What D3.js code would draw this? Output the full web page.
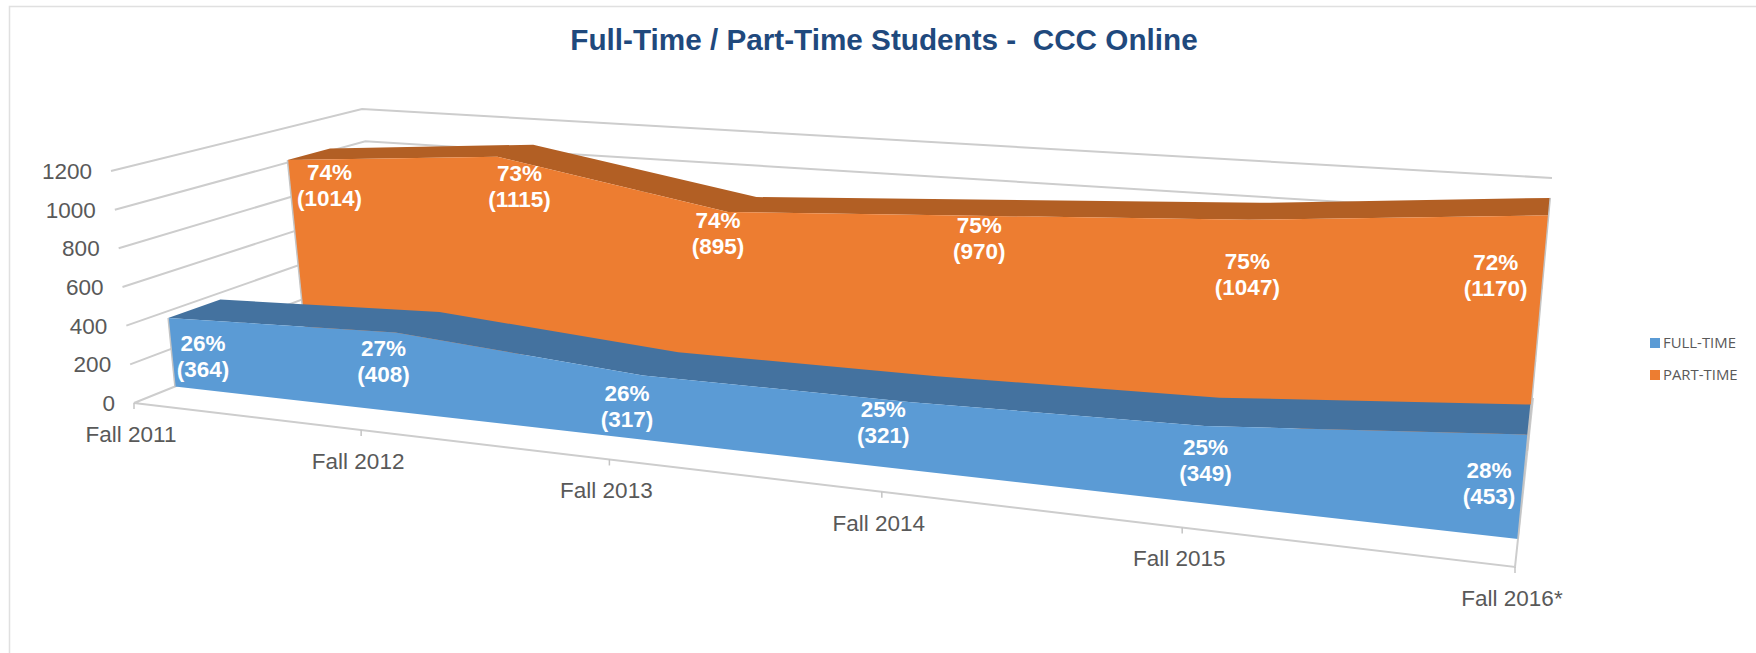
<!DOCTYPE html>
<html>
<head>
<meta charset="utf-8">
<script src="https://cdn.jsdelivr.net/npm/d3@7"></script>
<style>
  html, body { margin: 0; padding: 0; background: #fff; overflow: hidden; }
  text { font-family: "Liberation Sans", Arial, sans-serif; }
  .grid { fill: none; stroke: #cdcdcd; stroke-width: 2; }
  .edge { fill: none; stroke: #c4c4c4; stroke-width: 1.5; }
  .tick-label { fill: #595959; font-size: 22.5px; }
  .data-label { fill: #fff; font-size: 22.5px; font-weight: bold; text-anchor: middle; }
  .legend-label { fill: #595959; font-size: 14.9px; font-family: "Open Sans", sans-serif; }
</style>
</head>
<body>
<div id="chart"></div>
<script>
// values
var categories = ["Fall 2011", "Fall 2012", "Fall 2013", "Fall 2014", "Fall 2015", "Fall 2016*"];
var fullTime = [364, 408, 317, 321, 349, 453];
var partTime = [1014, 1115, 895, 970, 1047, 1170];
var fullTimePct = ["26%", "27%", "26%", "25%", "25%", "28%"];
var partTimePct = ["74%", "73%", "74%", "75%", "75%", "72%"];
var valueTicks = [0, 200, 400, 600, 800, 1000, 1200];

var width = 1756, height = 653;

var svg = d3.select("#chart").append("svg")
  .attr("width", width)
  .attr("height", height)
  .style("display", "block");

// outer chart frame, only its top and left show in the crop
svg.append("rect")
  .attr("x", 9.5).attr("y", 6.5)
  .attr("width", width + 20).attr("height", height + 20)
  .attr("fill", "none").attr("stroke", "#e0e0e0").attr("stroke-width", 1.5);

svg.append("text")
  .attr("x", 884).attr("y", 50)
  .attr("text-anchor", "middle")
  .attr("fill", "#1f497d")
  .style("font-size", "29.7px").style("font-weight", "bold")
  .style("white-space", "pre")
  .attr("xml:space", "preserve")
  .text("Full-Time / Part-Time Students -  CCC Online");

// the 3D box: where each corner of the plot cube lands on the page
var box = {
  frontBottom: [[134, 403], [1515, 567]],
  frontTop: [[111, 171], [1543, 279]],
  backBottom: [[382, 303], [1533, 398]],
  backTop: [[362, 109], [1552, 178]]
};

var xScale = d3.scalePoint().domain(categories).range([0, 1]);
var yScale = d3.scaleLinear().domain([0, 1200]).range([0, 1]);
var areaForeshorten = 1.24, floorForeshorten = 1.27;

function mix(a, b, t) { return [a[0] + (b[0] - a[0]) * t, a[1] + (b[1] - a[1]) * t]; }

// cat = category name, val = students, depth = 0 at the front of the floor, 1 at the back
function project(cat, val, depth, r) {
  var s = xScale(cat);
  var f = s / (s + (r || areaForeshorten) * (1 - s));
  var h = yScale(val);
  var bottom = mix(mix(box.frontBottom[0], box.frontBottom[1], f), mix(box.backBottom[0], box.backBottom[1], f), depth);
  var top = mix(mix(box.frontTop[0], box.frontTop[1], f), mix(box.backTop[0], box.backTop[1], f), depth);
  return mix(bottom, top, h);
}

var line = d3.line();
var first = categories[0], last = categories[categories.length - 1];

// gridlines on the two walls
svg.selectAll(".grid-wall")
  .data(valueTicks.filter(function(d) { return d > 0; }))
  .enter().append("path")
  .attr("class", "grid")
  .attr("d", function(d) { return line([project(first, d, 0), project(first, d, 1), project(last, d, 1)]); });

// floor
svg.append("path").attr("class", "grid")
  .attr("d", line([project(last, 0, 1), project(last, 0, 0), project(first, 0, 0), project(first, 0, 1)]));

svg.selectAll(".cat-tick")
  .data(categories)
  .enter().append("path")
  .attr("class", "edge")
  .attr("d", function(d) { var p = project(d, 0, 0, floorForeshorten); return line([p, [p[0], p[1] + 6]]); });

var series = [
  {name: "PART-TIME", values: partTime, pct: partTimePct, front: 0.69, back: 0.86, color: "#ed7d31", topColor: "#b25f24",
    nudge: [[42, 25], [22, 29], [-10, 21], [3, 22], [-1, 54], [-53, 60]]},
  {name: "FULL-TIME", values: fullTime, pct: fullTimePct, front: 0.165, back: 0.375, color: "#5b9bd5", topColor: "#44729f",
    nudge: [[35, 38], [-12, 29], [-16, 30], [-28, 20], [1, 34], [-39, 48]]}
];

series.forEach(function(s) {
  var g = svg.append("g").attr("class", s.name);

  var frontTop = categories.map(function(c, i) { return project(c, s.values[i], s.front); });
  var backTop = categories.map(function(c, i) { return project(c, s.values[i], s.back); });
  var frontBase = [project(last, 0, s.front), project(first, 0, s.front)];

  // top ribbon
  g.append("path")
    .attr("d", line(backTop.concat(frontTop.slice().reverse())) + "Z")
    .attr("fill", s.topColor);

  // front face
  g.append("path")
    .attr("d", line(frontTop.concat(frontBase)) + "Z")
    .attr("fill", s.color);

  // thin grey end edges
  g.append("path").attr("class", "edge")
    .attr("d", line([backTop[5], frontTop[5], frontBase[0]]));
  g.append("path").attr("class", "edge")
    .attr("d", line([frontTop[0], frontBase[1]]));
});

// labels go on top of both areas
series.forEach(function(s) {
  svg.selectAll(".label-" + s.name)
    .data(categories)
    .enter().append("text")
    .attr("class", "data-label")
    .attr("transform", function(d, i) {
      var p = project(d, s.values[i], s.front);
      return "translate(" + (p[0] + s.nudge[i][0]) + "," + (p[1] + s.nudge[i][1]) + ")";
    })
    .each(function(d, i) {
      var t = d3.select(this);
      t.append("tspan").attr("x", 0).attr("y", -5).text(s.pct[i]);
      t.append("tspan").attr("x", 0).attr("y", 21).text("(" + s.values[i] + ")");
    });
});

// value axis labels, right aligned against the wall lines
svg.selectAll(".value-label")
  .data(valueTicks)
  .enter().append("text")
  .attr("class", "tick-label")
  .attr("text-anchor", "end")
  .attr("x", function(d) { return project(first, d, 0)[0] - 19; })
  .attr("y", function(d) { return project(first, d, 0)[1] + 8; })
  .text(function(d) { return d; });

// category labels under the floor
svg.selectAll(".cat-label")
  .data(categories)
  .enter().append("text")
  .attr("class", "tick-label")
  .attr("text-anchor", "middle")
  .attr("x", function(d) { return project(d, 0, 0, floorForeshorten)[0] - 3; })
  .attr("y", function(d) { return project(d, 0, 0, floorForeshorten)[1] + 39; })
  .text(function(d) { return d; });

// legend
var legend = svg.selectAll(".legend")
  .data(["FULL-TIME", "PART-TIME"])
  .enter().append("g")
  .attr("transform", function(d, i) { return "translate(1650," + (338 + i * 32) + ")"; });

legend.append("rect")
  .attr("width", 10).attr("height", 10)
  .attr("fill", function(d, i) { return i == 0 ? "#5b9bd5" : "#ed7d31"; });

legend.append("text")
  .attr("class", "legend-label")
  .attr("x", 13).attr("y", 10)
  .text(function(d) { return d; });
</script>
</body>
</html>
